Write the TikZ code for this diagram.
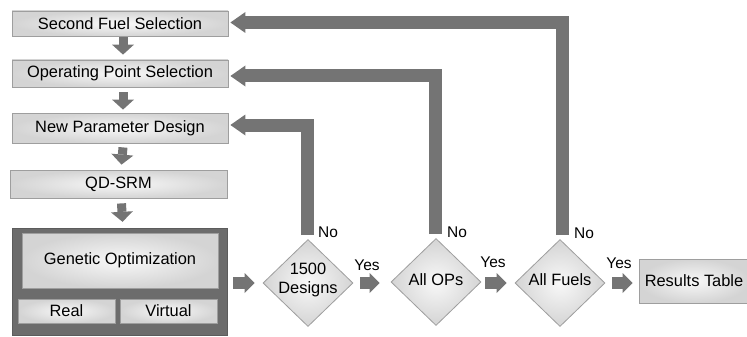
\documentclass[tikz,border=0pt]{standalone}
\usepackage{fontspec}
\setmainfont{Liberation Sans}
\usetikzlibrary{shapes.geometric,arrows.meta,calc}
\definecolor{arr}{HTML}{747474}
\definecolor{bord}{HTML}{9E9E9E}
\definecolor{darkbox}{HTML}{6C6C6C}
\definecolor{boxin}{HTML}{F8F8F8}
\definecolor{boxout}{HTML}{D4D4D4}
\begin{document}
\begin{tikzpicture}[x=1pt,y=-1pt,
  box/.style={draw=bord, line width=0.8pt, inner color=boxin, outer color=boxout,
    font=\fontsize{16.4}{19}\selectfont, inner sep=0pt},
  dia/.style={diamond, draw=bord, line width=0.8pt, inner color=boxin, outer color=boxout,
    minimum width=90pt, minimum height=87pt, inner sep=0pt},
  dtext/.style={font=\fontsize{16.4}{19.5}\selectfont, align=center, inner sep=0pt},
  lbl/.style={font=\fontsize{15.5}{18}\selectfont, inner sep=0pt},
  downarr/.style={draw=arr, line width=9pt, -{Triangle[width=22pt,length=10pt,line width=0pt]}},
  rightarr/.style={draw=arr, line width=12pt, -{Triangle[width=20pt,length=10pt,line width=0pt]}},
  looparr/.style={draw=arr, line width=13pt, line join=miter, -{Triangle[width=21pt,length=15pt,line width=0pt]}}
]
\useasboundingbox (0,0) rectangle (747,337);

% left column
\node[box, minimum width=216pt, minimum height=25pt] (sfs) at (120,23.5) {Second Fuel Selection};
\node[box, minimum width=216pt, minimum height=27pt] (ops) at (120,73.5) {Operating Point Selection};
\node[box, minimum width=216pt, minimum height=30pt] (npd) at (120,128) {New Parameter Design};
\node[box, minimum width=217pt, minimum height=28pt] (qd) at (118.5,184) {QD-SRM};

% genetic optimization block
\node[draw=darkbox!85!black, fill=darkbox, minimum width=215pt, minimum height=107pt, inner sep=0pt] (gbox) at (119.5,281.5) {};
\node[box, minimum width=196pt, minimum height=55pt] (gen) at (120,260.5) {Genetic Optimization};
\node[box, minimum width=97pt, minimum height=24pt] (real) at (66.5,311) {Real};
\node[box, minimum width=97pt, minimum height=24pt] (virt) at (168.5,311) {Virtual};

% decisions
\node[dia] (d1) at (308,283) {};
\node[dtext] (d1t) at (308,280) {1500\\Designs};
\node[dia] (d2) at (436,282) {};
\node[dtext] (d2t) at (436,280) {All OPs};
\node[dia] (d3) at (560,283) {};
\node[dtext] (d3t) at (560,280) {All Fuels};

% results
\node[box, minimum width=110pt, minimum height=44pt] (res) at (694,281) {Results Table};

% down arrows
\draw[downarr] ([xshift=3pt,yshift=-1pt]sfs.south) -- ([xshift=3pt,yshift=5pt]ops.north);
\draw[downarr] ([xshift=3pt,yshift=-5pt]ops.south) -- ([xshift=3pt,yshift=3pt]npd.north);
\draw[downarr] ([xshift=3pt,yshift=-4pt]npd.south) -- ([xshift=3pt,yshift=5pt]qd.north);
\draw[downarr] ([xshift=3pt,yshift=-5pt]qd.south) -- ([xshift=3pt,yshift=6pt]gbox.north);

% right arrows
\draw[rightarr] ([xshift=6pt,yshift=-1.5pt]gbox.east) -- ([xshift=-8pt]d1.west);
\draw[rightarr] ([xshift=7pt]d1.east) -- ([xshift=-11pt,yshift=-1pt]d2.west);
\draw[rightarr] ([xshift=4pt,yshift=-1pt]d2.east) -- ([xshift=-8pt]d3.west);
\draw[rightarr] ([xshift=7pt]d3.east) -- ([xshift=-6pt,yshift=-2pt]res.west);

% loop arrows
\draw[looparr] ([xshift=-0.5pt,yshift=4pt]d1.north) |- ([xshift=2pt,yshift=3pt]npd.east);
\draw[looparr] ([xshift=-0.5pt,yshift=4pt]d2.north) |- ([xshift=2pt,yshift=-2.5pt]ops.east);
\draw[looparr] ([xshift=2pt,yshift=4pt]d3.north) |- ([xshift=2pt,yshift=1pt]sfs.east);

% labels
\node[lbl, anchor=west] (no1) at (318,232) {No};
\node[lbl, anchor=west] (no2) at (447,232) {No};
\node[lbl, anchor=west] (no3) at (574,233) {No};
\node[lbl] (yes1) at (367,265) {Yes};
\node[lbl] (yes2) at (493,262) {Yes};
\node[lbl] (yes3) at (619,263) {Yes};
\end{tikzpicture}
\end{document}
